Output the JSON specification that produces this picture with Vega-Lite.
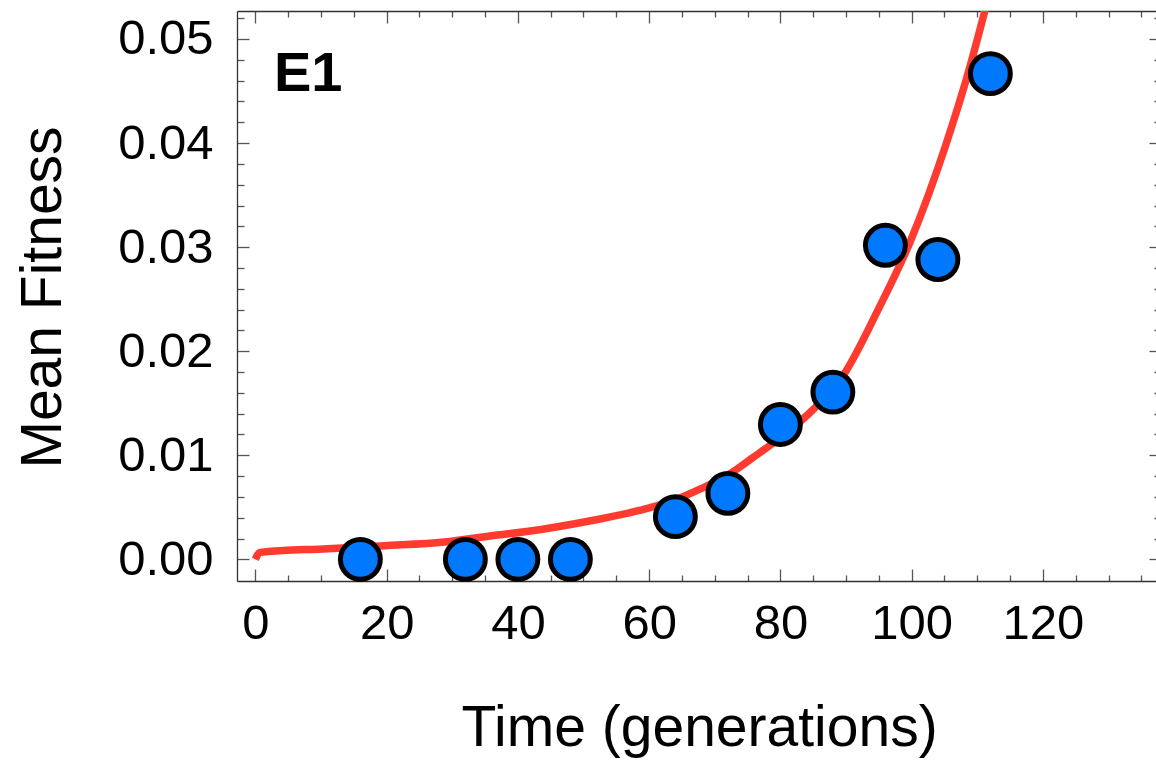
{
  "$schema": "https://vega.github.io/schema/vega-lite/v6.json",
  "autosize": {"type": "none"},
  "padding": {"left": 237, "top": 11, "right": 0, "bottom": 179},
  "width": 924,
  "height": 570,
  "background": "white",
  "config": {
    "view": {"stroke": null},
    "font": "Liberation Sans",
    "axis": {
      "grid": false,
      "domainColor": "#333333",
      "domainWidth": 1.3,
      "tickColor": "#555555",
      "tickWidth": 1.3,
      "labelFont": "Liberation Sans",
      "labelFontSize": 49,
      "labelColor": "black",
      "labelOverlap": false,
      "labelFlush": false,
      "titleFont": "Liberation Sans",
      "titleFontSize": 57,
      "titleFontWeight": "normal",
      "titleColor": "black"
    }
  },
  "title": {
    "text": "E1",
    "orient": "top",
    "anchor": "start",
    "frame": "group",
    "font": "Liberation Sans",
    "fontSize": 56,
    "fontWeight": "bold",
    "color": "black",
    "baseline": "alphabetic",
    "offset": -153,
    "dx": 37
  },
  "datasets": {
    "curve": [
      {"t": 0, "fitness": 0},
      {"t": 0.7, "fitness": 0.00067},
      {"t": 11, "fitness": 0.00103},
      {"t": 19.7, "fitness": 0.00131},
      {"t": 28.8, "fitness": 0.00166},
      {"t": 35.7, "fitness": 0.00224},
      {"t": 43.3, "fitness": 0.00285},
      {"t": 50.9, "fitness": 0.00368},
      {"t": 58.5, "fitness": 0.00470},
      {"t": 63.5, "fitness": 0.00560},
      {"t": 67.9, "fitness": 0.00679},
      {"t": 72, "fitness": 0.00810},
      {"t": 75.8, "fitness": 0.00977},
      {"t": 80, "fitness": 0.0117},
      {"t": 85, "fitness": 0.0144},
      {"t": 89.5, "fitness": 0.0176},
      {"t": 94.9, "fitness": 0.0240},
      {"t": 99.7, "fitness": 0.0304},
      {"t": 105.3, "fitness": 0.0400},
      {"t": 108.6, "fitness": 0.0467},
      {"t": 111.2, "fitness": 0.0528}
    ],
    "observed": [
      {"t": 16, "fitness": 0.0},
      {"t": 32, "fitness": 0.0},
      {"t": 40, "fitness": 0.0},
      {"t": 48, "fitness": 0.0},
      {"t": 64, "fitness": 0.0041},
      {"t": 72, "fitness": 0.00634},
      {"t": 80, "fitness": 0.01296},
      {"t": 88, "fitness": 0.01607},
      {"t": 96, "fitness": 0.03018},
      {"t": 104, "fitness": 0.02881},
      {"t": 112, "fitness": 0.04667}
    ]
  },
  "resolve": {"axis": {"x": "independent", "y": "independent"}},
  "layer": [
    {
      "data": {"name": "curve"},
      "mark": {"type": "line", "color": "#FF3B30", "strokeWidth": 7.5, "interpolate": "monotone", "clip": true},
      "encoding": {
        "x": {
          "field": "t",
          "type": "quantitative",
          "scale": {"domain": [-2.8, 138], "nice": false, "zero": false},
          "axis": {
            "orient": "bottom",
            "title": "Time (generations)",
            "titleBaseline": "alphabetic",
            "titleY": 164,
            "values": [0, 5, 10, 15, 20, 25, 30, 35, 40, 45, 50, 55, 60, 65, 70, 75, 80, 85, 90, 95, 100, 105, 110, 115, 120, 125, 130, 135],
            "labelExpr": "datum.value % 20 === 0 ? datum.label : ''",
            "labelPadding": 30,
            "tickSize": {"condition": {"test": "datum.value % 20 === 0", "value": -12}, "value": -6}
          }
        },
        "y": {
          "field": "fitness",
          "type": "quantitative",
          "scale": {"domain": [-0.00208, 0.05269], "nice": false, "zero": false},
          "axis": {
            "orient": "left",
            "title": "Mean Fitness",
            "titleAngle": 270,
            "titleBaseline": "alphabetic",
            "titleX": -177,
            "titleY": 286,
            "format": ".2f",
            "values": [0, 0.002, 0.004, 0.006, 0.008, 0.01, 0.012, 0.014, 0.016, 0.018, 0.02, 0.022, 0.024, 0.026, 0.028, 0.03, 0.032, 0.034, 0.036, 0.038, 0.04, 0.042, 0.044, 0.046, 0.048, 0.05, 0.052],
            "labelExpr": "round(datum.value * 1000) % 10 === 0 ? datum.label : ''",
            "labelPadding": 36,
            "tickSize": {"condition": {"test": "round(datum.value * 1000) % 10 === 0", "value": -12}, "value": -7}
          }
        }
      }
    },
    {
      "data": {"name": "observed"},
      "mark": {"type": "point", "filled": true, "fill": "#0079FF", "stroke": "black", "strokeWidth": 5, "size": 1590, "opacity": 1, "clip": false},
      "encoding": {
        "x": {
          "field": "t",
          "type": "quantitative",
          "axis": {
            "orient": "top",
            "title": null,
            "labels": false,
            "values": [0, 5, 10, 15, 20, 25, 30, 35, 40, 45, 50, 55, 60, 65, 70, 75, 80, 85, 90, 95, 100, 105, 110, 115, 120, 125, 130, 135],
            "tickSize": {"condition": {"test": "datum.value % 20 === 0", "value": -12}, "value": -6}
          }
        },
        "y": {
          "field": "fitness",
          "type": "quantitative",
          "axis": {
            "orient": "right",
            "title": null,
            "labels": false,
            "values": [0, 0.002, 0.004, 0.006, 0.008, 0.01, 0.012, 0.014, 0.016, 0.018, 0.02, 0.022, 0.024, 0.026, 0.028, 0.03, 0.032, 0.034, 0.036, 0.038, 0.04, 0.042, 0.044, 0.046, 0.048, 0.05, 0.052],
            "tickSize": {"condition": {"test": "round(datum.value * 1000) % 10 === 0", "value": -12}, "value": -7}
          }
        }
      }
    }
  ]
}
